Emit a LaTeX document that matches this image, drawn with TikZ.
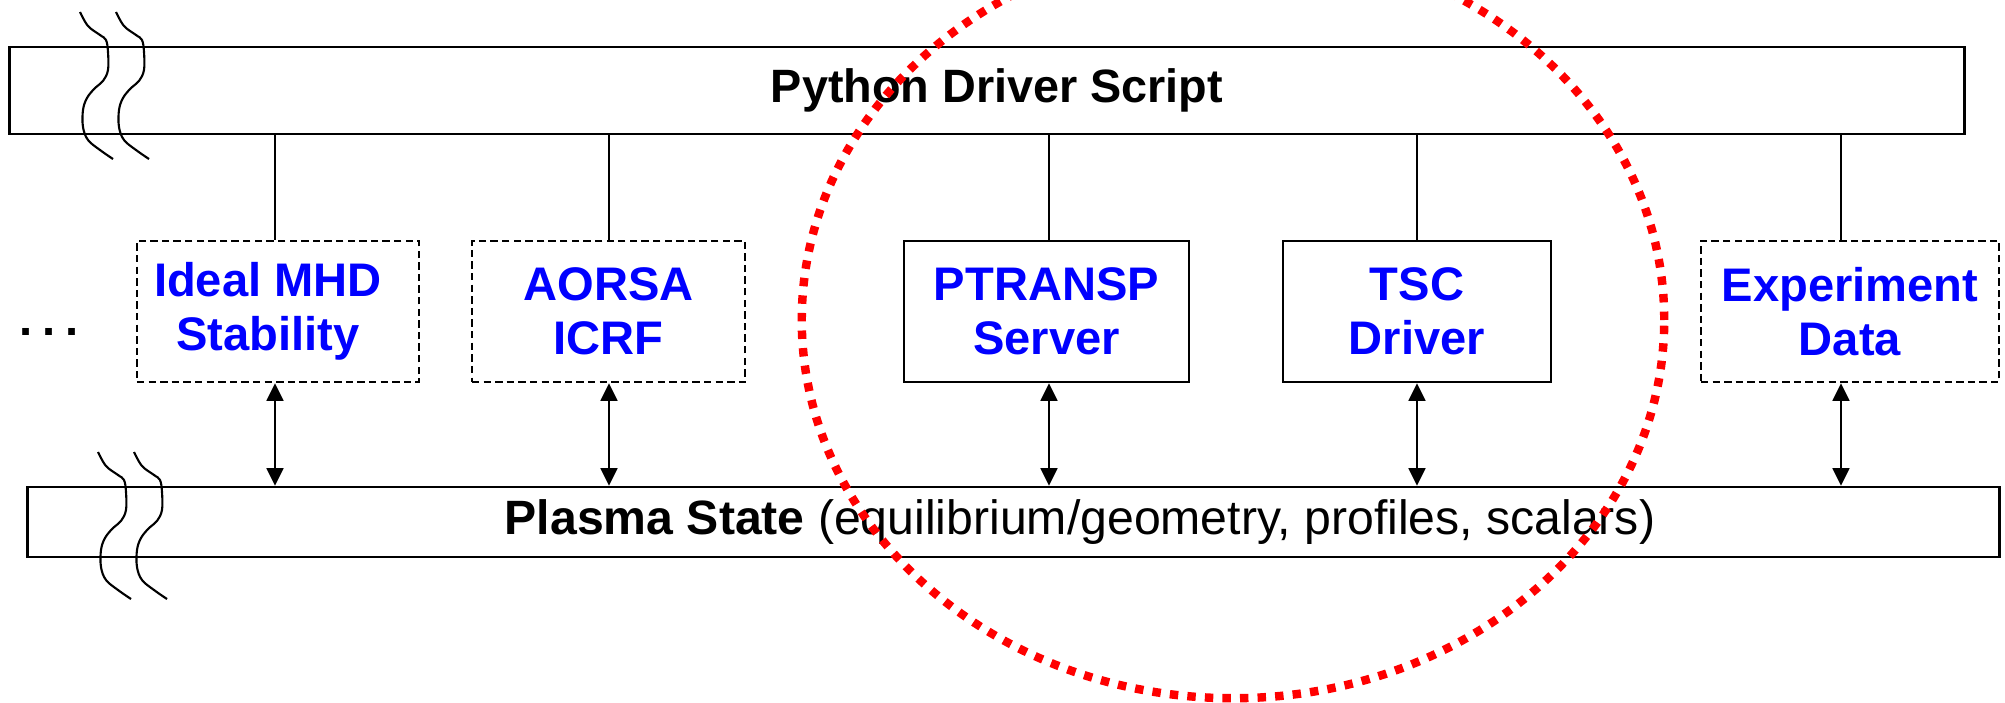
\documentclass[tikz,border=0pt]{standalone}
\usepackage{fontspec}
\setmainfont{Liberation Sans}
\usetikzlibrary{arrows.meta}
\begin{document}
\begin{tikzpicture}[x=0.01cm,y=-0.01cm,
  box/.style={draw=black,line width=0.7pt,inner sep=0pt},
  dashbox/.style={box,dash pattern=on 2.1pt off 1.2pt},
  modbox/.style={minimum height=1.41cm},
  modtext/.style={text=blue,font=\fontsize{13.4}{15.4}\selectfont\bfseries,align=center},
  link/.style={line width=0.6pt},
  dlink/.style={line width=0.6pt,{Triangle[length=5pt,width=4.8pt]}-{Triangle[length=5pt,width=4.8pt]}},
  wave/.style={line width=0.6pt},
  reddots/.style={draw=red,line width=2.4pt,dash pattern=on 2.4pt off 2.6pt}
]
\useasboundingbox (0,0) rectangle (2005,703);
\fill[white] (0,0) rectangle (2005,703);

% main bars
\node[box,minimum width=19.54cm,minimum height=0.87cm,font=\fontsize{13.3}{15}\selectfont\bfseries] (driver) at (987,90.5) {\hspace*{0.2cm}Python Driver Script};
\node[box,minimum width=19.71cm,minimum height=0.70cm,font=\fontsize{13.7}{16}\selectfont] (plasma) at (1013.5,522) {\hspace*{1.33cm}\textbf{Plasma State} (equilibrium/geometry, profiles, scalars)};

% components
\node[dashbox,modbox,modtext,minimum width=2.82cm] (mhd) at (278,311.5) {\hspace*{-0.2cm}Ideal MHD\\\hspace*{-0.2cm}Stability};
\node[dashbox,modbox,modtext,minimum width=2.73cm] (aorsa) at (608.5,311.5) {AORSA\\ICRF};
\node[box,modbox,modtext,minimum width=2.85cm] (ptransp) at (1046.5,311.5) {PTRANSP\\Server};
\node[box,modbox,modtext,minimum width=2.68cm] (tsc) at (1417,311.5) {TSC\\Driver};
\node[dashbox,modbox,modtext,minimum width=2.98cm] (exp) at (1850,311.5) {Experiment\\Data};

\node[font=\fontsize{13.4}{15}\selectfont\bfseries,inner sep=0pt] (dots) at (49,332) {.\kern2.8pt.\kern2.8pt.};

% connector columns
\coordinate (c1) at (275,0);
\coordinate (c2) at (609,0);
\coordinate (c3) at (1049,0);
\coordinate (c4) at (1417,0);
\coordinate (c5) at (1841,0);

\draw[link] (driver.south -| c1) -- (mhd.north -| c1);
\draw[link] (driver.south -| c2) -- (aorsa.north -| c2);
\draw[link] (driver.south -| c3) -- (ptransp.north -| c3);
\draw[link] (driver.south -| c4) -- (tsc.north -| c4);
\draw[link] (driver.south -| c5) -- (exp.north -| c5);

\draw[dlink] (mhd.south -| c1) -- (plasma.north -| c1);
\draw[dlink] (aorsa.south -| c2) -- (plasma.north -| c2);
\draw[dlink] (ptransp.south -| c3) -- (plasma.north -| c3);
\draw[dlink] (tsc.south -| c4) -- (plasma.north -| c4);
\draw[dlink] (exp.south -| c5) -- (plasma.north -| c5);

% break marks
\foreach \dx/\dy in {0/0,36/0,18/440,54/440}
  \draw[wave,shift={(\dx,\dy)}] plot[smooth,tension=0.6] coordinates
    {(80,12) (88,26) (100,35) (106,40) (108,52) (108,70) (103,81) (95,88) (87,98) (83,110) (83,127) (88,140) (100,150) (113,159)};

% red dotted ellipse
\begin{scope}
\clip (0,0) rectangle (2005,703);
\draw[reddots] (1233,320) ellipse [x radius=4.31cm,y radius=3.78cm];
\end{scope}
\end{tikzpicture}
\end{document}
